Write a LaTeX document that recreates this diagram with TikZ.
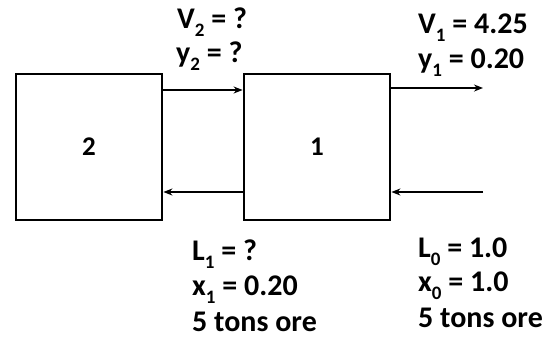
\documentclass[tikz,border=0pt]{standalone}
\usepackage{fontspec}
\setmainfont{Carlito}
\usetikzlibrary{arrows.meta}
\newcommand{\sbs}[1]{\raisebox{-0.28em}{\fontsize{19}{19}\selectfont #1}}
\begin{document}
\begin{tikzpicture}[x=1pt,y=-1pt,
  unitbox/.style={draw,line width=2.8pt,minimum width=146pt,minimum height=146pt,inner sep=0pt,font=\fontsize{27}{27}\selectfont\bfseries},
  flow/.style={line width=1.8pt,-{Stealth[length=9pt,width=7pt]}},
  lbl/.style={anchor=base west,inner sep=0pt,font=\fontsize{30}{30}\selectfont\bfseries}]
\useasboundingbox (0,0) rectangle (552,338);
\node[unitbox] (u2) at (89,147) {2};
\node[unitbox] (u1) at (317,147) {1};
\coordinate (vout) at (483,88);
\coordinate (lin) at (483,192);
\draw[flow] (u2.east |- 0,90) -- (u1.west |- 0,90);
\draw[flow] (u1.east |- vout) -- (vout);
\draw[flow] (lin) -- (u1.east |- lin);
\draw[flow] (u1.west |- 0,192) -- (u2.east |- 0,192);
\node[lbl] (v2) at (177,28) {V\sbs{2} = ?};
\node[lbl] (y2) at (176,62) {y\sbs{2} = ?};
\node[lbl] (v1) at (418,33) {V\sbs{1} = 4.25};
\node[lbl] (y1) at (418,68) {y\sbs{1} = 0.20};
\node[lbl] (l1) at (192,260) {L\sbs{1} = ?};
\node[lbl] (x1) at (192,295) {x\sbs{1} = 0.20};
\node[lbl] (o1) at (192,331) {5 tons ore};
\node[lbl] (l0) at (418,257) {L\sbs{0} = 1.0};
\node[lbl] (x0) at (418,291) {x\sbs{0} = 1.0};
\node[lbl] (o0) at (418,327) {5 tons ore};
\end{tikzpicture}
\end{document}
